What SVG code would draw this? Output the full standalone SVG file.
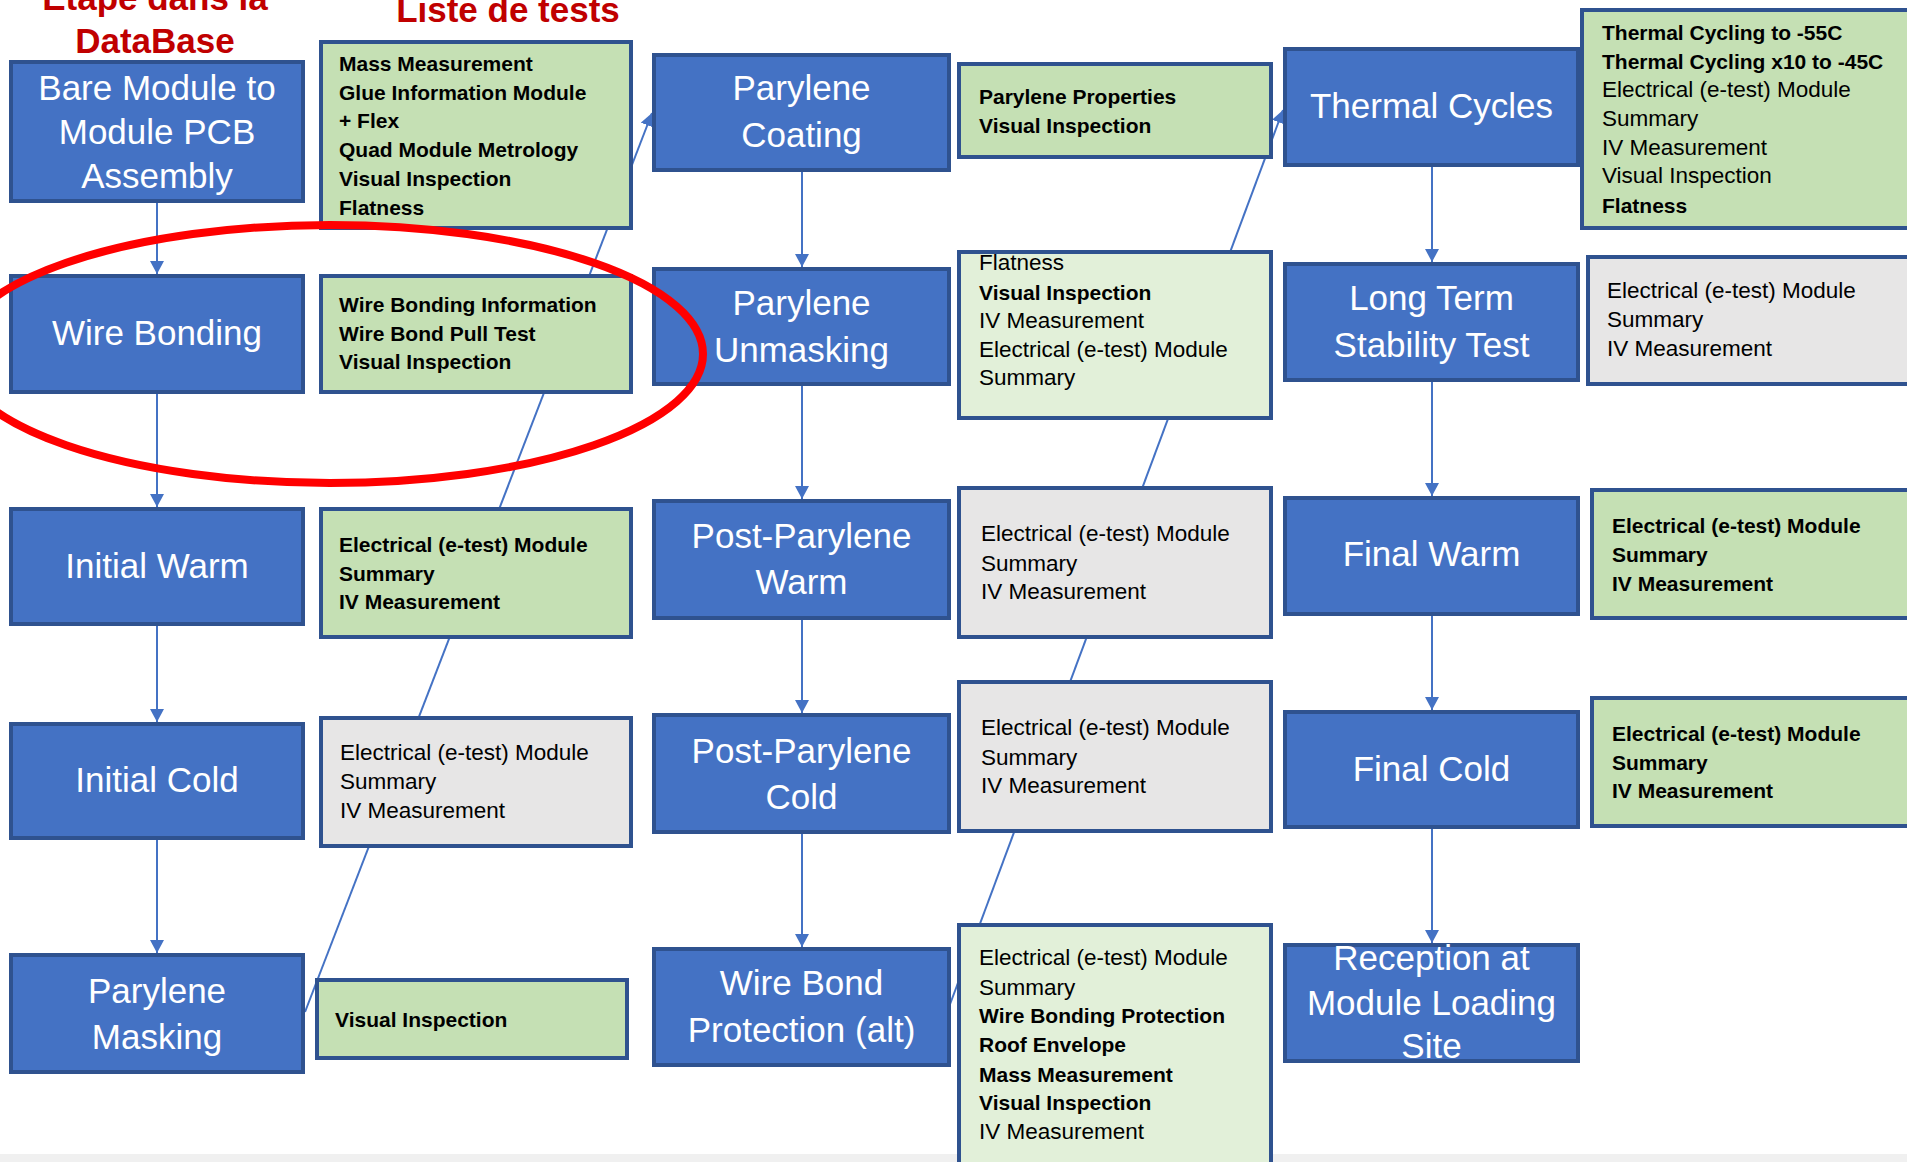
<svg xmlns="http://www.w3.org/2000/svg" width="1907" height="1162" viewBox="0 0 1907 1162">
<defs>
<style>
.blue{fill:#4472C4;stroke:#2F528F;stroke-width:4}
.green{fill:#C5E0B4;stroke:#2F528F;stroke-width:4}
.lgreen{fill:#E2F0D9;stroke:#2F528F;stroke-width:4}
.grey{fill:#E7E6E6;stroke:#2F528F;stroke-width:4}
.bt{font-family:"Liberation Sans",Arial,sans-serif;font-size:35px;fill:#FFFFFF;text-anchor:middle}
.t{font-family:"Liberation Sans",Arial,sans-serif;font-size:22.5px;fill:#000000}
.b{font-weight:bold;font-size:21px}
.conn{stroke:#4472C4;stroke-width:2;fill:none}
.title{font-family:"Liberation Sans",Arial,sans-serif;font-weight:bold;font-size:35px;fill:#C00000;text-anchor:middle}
</style>
<marker id="ah" markerUnits="userSpaceOnUse" markerWidth="13" markerHeight="14" viewBox="0 0 13 14" refX="13" refY="7" orient="auto">
<path d="M0,0 L13,7 L0,14 z" fill="#4472C4"/>
</marker>
</defs>
<rect x="0" y="0" width="1907" height="1162" fill="#FFFFFF"/>
<rect x="0" y="1154" width="1907" height="8" fill="#F0F0F0"/>

<g id="titles">
<text class="title" x="155" y="10">Etape dans la</text>
<text class="title" x="155" y="53">DataBase</text>
<text class="title" x="508" y="22">Liste de tests</text>
</g>

<g id="connectors">
<line class="conn" x1="157" y1="203" x2="157" y2="274" marker-end="url(#ah)"/>
<line class="conn" x1="157" y1="394" x2="157" y2="507" marker-end="url(#ah)"/>
<line class="conn" x1="157" y1="626" x2="157" y2="722" marker-end="url(#ah)"/>
<line class="conn" x1="157" y1="840" x2="157" y2="953" marker-end="url(#ah)"/>
<line class="conn" x1="802" y1="172" x2="802" y2="267" marker-end="url(#ah)"/>
<line class="conn" x1="802" y1="386" x2="802" y2="499" marker-end="url(#ah)"/>
<line class="conn" x1="802" y1="620" x2="802" y2="713" marker-end="url(#ah)"/>
<line class="conn" x1="802" y1="834" x2="802" y2="947" marker-end="url(#ah)"/>
<line class="conn" x1="1432" y1="167" x2="1432" y2="262" marker-end="url(#ah)"/>
<line class="conn" x1="1432" y1="382" x2="1432" y2="496" marker-end="url(#ah)"/>
<line class="conn" x1="1432" y1="616" x2="1432" y2="710" marker-end="url(#ah)"/>
<line class="conn" x1="1432" y1="829" x2="1432" y2="943" marker-end="url(#ah)"/>
<line class="conn" x1="305" y1="1012" x2="652" y2="113" marker-end="url(#ah)"/>
<line class="conn" x1="949" y1="1007" x2="1283" y2="110" marker-end="url(#ah)"/>
</g>

<g id="n-bare"><rect class="blue" x="11" y="62" width="292" height="139"/>
<text class="bt"><tspan x="157" y="100">Bare Module to</tspan><tspan x="157" y="144">Module PCB</tspan><tspan x="157" y="188">Assembly</tspan></text></g>
<g id="n-wirebonding"><rect class="blue" x="11" y="276" width="292" height="116"/>
<text class="bt" x="157" y="345">Wire Bonding</text></g>
<g id="n-initialwarm"><rect class="blue" x="11" y="509" width="292" height="115"/>
<text class="bt" x="157" y="578">Initial Warm</text></g>
<g id="n-initialcold"><rect class="blue" x="11" y="724" width="292" height="114"/>
<text class="bt" x="157" y="792">Initial Cold</text></g>
<g id="n-parylenemasking"><rect class="blue" x="11" y="955" width="292" height="117"/>
<text class="bt"><tspan x="157" y="1003">Parylene</tspan><tspan x="157" y="1049">Masking</tspan></text></g>

<g id="t-bare"><rect class="green" x="321" y="42" width="310" height="186"/>
<text class="t b"><tspan x="339" y="71">Mass Measurement</tspan><tspan x="339" y="100">Glue Information Module</tspan><tspan x="339" y="128">+ Flex</tspan><tspan x="339" y="157">Quad Module Metrology</tspan><tspan x="339" y="186">Visual Inspection</tspan><tspan x="339" y="215">Flatness</tspan></text></g>
<g id="t-wirebonding"><rect class="green" x="321" y="276" width="310" height="116"/>
<text class="t b"><tspan x="339" y="312">Wire Bonding Information</tspan><tspan x="339" y="341">Wire Bond Pull Test</tspan><tspan x="339" y="369">Visual Inspection</tspan></text></g>
<g id="t-initialwarm"><rect class="green" x="321" y="509" width="310" height="128"/>
<text class="t b"><tspan x="339" y="552">Electrical (e-test) Module</tspan><tspan x="339" y="581">Summary</tspan><tspan x="339" y="609">IV Measurement</tspan></text></g>
<g id="t-initialcold"><rect class="grey" x="321" y="718" width="310" height="128"/>
<text class="t"><tspan x="340" y="760">Electrical (e-test) Module</tspan><tspan x="340" y="789">Summary</tspan><tspan x="340" y="818">IV Measurement</tspan></text></g>
<g id="t-parylenemasking"><rect class="green" x="317" y="980" width="310" height="78"/>
<text class="t b" x="335" y="1027">Visual Inspection</text></g>

<g id="n-parylenecoating"><rect class="blue" x="654" y="55" width="295" height="115"/>
<text class="bt"><tspan x="801.5" y="100">Parylene</tspan><tspan x="801.5" y="147">Coating</tspan></text></g>
<g id="n-paryleneunmasking"><rect class="blue" x="654" y="269" width="295" height="115"/>
<text class="bt"><tspan x="801.5" y="315">Parylene</tspan><tspan x="801.5" y="362">Unmasking</tspan></text></g>
<g id="n-ppwarm"><rect class="blue" x="654" y="501" width="295" height="117"/>
<text class="bt"><tspan x="801.5" y="548">Post-Parylene</tspan><tspan x="801.5" y="594">Warm</tspan></text></g>
<g id="n-ppcold"><rect class="blue" x="654" y="715" width="295" height="117"/>
<text class="bt"><tspan x="801.5" y="763">Post-Parylene</tspan><tspan x="801.5" y="809">Cold</tspan></text></g>
<g id="n-wbp"><rect class="blue" x="654" y="949" width="295" height="116"/>
<text class="bt"><tspan x="801.5" y="995">Wire Bond</tspan><tspan x="801.5" y="1042">Protection (alt)</tspan></text></g>

<g id="t-parylenecoating"><rect class="green" x="959" y="64" width="312" height="93"/>
<text class="t b"><tspan x="979" y="104">Parylene Properties</tspan><tspan x="979" y="133">Visual Inspection</tspan></text></g>
<g id="t-paryleneunmasking"><rect class="lgreen" x="959" y="252" width="312" height="166"/>
<text class="t"><tspan x="979" y="270">Flatness</tspan><tspan class="b" x="979" y="300">Visual Inspection</tspan><tspan x="979" y="328">IV Measurement</tspan><tspan x="979" y="357">Electrical (e-test) Module</tspan><tspan x="979" y="385">Summary</tspan></text></g>
<g id="t-ppwarm"><rect class="grey" x="959" y="488" width="312" height="149"/>
<text class="t"><tspan x="981" y="541">Electrical (e-test) Module</tspan><tspan x="981" y="571">Summary</tspan><tspan x="981" y="599">IV Measurement</tspan></text></g>
<g id="t-ppcold"><rect class="grey" x="959" y="682" width="312" height="149"/>
<text class="t"><tspan x="981" y="735">Electrical (e-test) Module</tspan><tspan x="981" y="765">Summary</tspan><tspan x="981" y="793">IV Measurement</tspan></text></g>
<g id="t-wbp"><rect class="lgreen" x="959" y="925" width="312" height="250"/>
<text class="t"><tspan x="979" y="965">Electrical (e-test) Module</tspan><tspan x="979" y="995">Summary</tspan><tspan class="b" x="979" y="1023">Wire Bonding Protection</tspan><tspan class="b" x="979" y="1052">Roof Envelope</tspan><tspan class="b" x="979" y="1082">Mass Measurement</tspan><tspan class="b" x="979" y="1110">Visual Inspection</tspan><tspan x="979" y="1139">IV Measurement</tspan></text></g>

<g id="n-thermal"><rect class="blue" x="1285" y="49" width="293" height="116"/>
<text class="bt" x="1431.5" y="118">Thermal Cycles</text></g>
<g id="n-lts"><rect class="blue" x="1285" y="264" width="293" height="116"/>
<text class="bt"><tspan x="1431.5" y="310">Long Term</tspan><tspan x="1431.5" y="357">Stability Test</tspan></text></g>
<g id="n-finalwarm"><rect class="blue" x="1285" y="498" width="293" height="116"/>
<text class="bt" x="1431.5" y="566">Final Warm</text></g>
<g id="n-finalcold"><rect class="blue" x="1285" y="712" width="293" height="115"/>
<text class="bt" x="1431.5" y="781">Final Cold</text></g>
<g id="n-reception"><rect class="blue" x="1285" y="945" width="293" height="116"/>
<text class="bt"><tspan x="1431.5" y="970">Reception at</tspan><tspan x="1431.5" y="1015">Module Loading</tspan><tspan x="1431.5" y="1058">Site</tspan></text></g>

<g id="t-thermal"><rect class="green" x="1582" y="10" width="340" height="218"/>
<text class="t"><tspan class="b" x="1602" y="40">Thermal Cycling to -55C</tspan><tspan class="b" x="1602" y="69">Thermal Cycling x10 to -45C</tspan><tspan x="1602" y="97">Electrical (e-test) Module</tspan><tspan x="1602" y="126">Summary</tspan><tspan x="1602" y="155">IV Measurement</tspan><tspan x="1602" y="183">Visual Inspection</tspan><tspan class="b" x="1602" y="213">Flatness</tspan></text></g>
<g id="t-lts"><rect class="grey" x="1588" y="257" width="340" height="127"/>
<text class="t"><tspan x="1607" y="298">Electrical (e-test) Module</tspan><tspan x="1607" y="327">Summary</tspan><tspan x="1607" y="356">IV Measurement</tspan></text></g>
<g id="t-finalwarm"><rect class="green" x="1592" y="490" width="340" height="128"/>
<text class="t b"><tspan x="1612" y="533">Electrical (e-test) Module</tspan><tspan x="1612" y="562">Summary</tspan><tspan x="1612" y="591">IV Measurement</tspan></text></g>
<g id="t-finalcold"><rect class="green" x="1592" y="698" width="340" height="128"/>
<text class="t b"><tspan x="1612" y="741">Electrical (e-test) Module</tspan><tspan x="1612" y="770">Summary</tspan><tspan x="1612" y="798">IV Measurement</tspan></text></g>

<g id="highlight">
<ellipse cx="330" cy="354" rx="373" ry="129" fill="none" stroke="#FF0000" stroke-width="8"/>
</g>
</svg>
